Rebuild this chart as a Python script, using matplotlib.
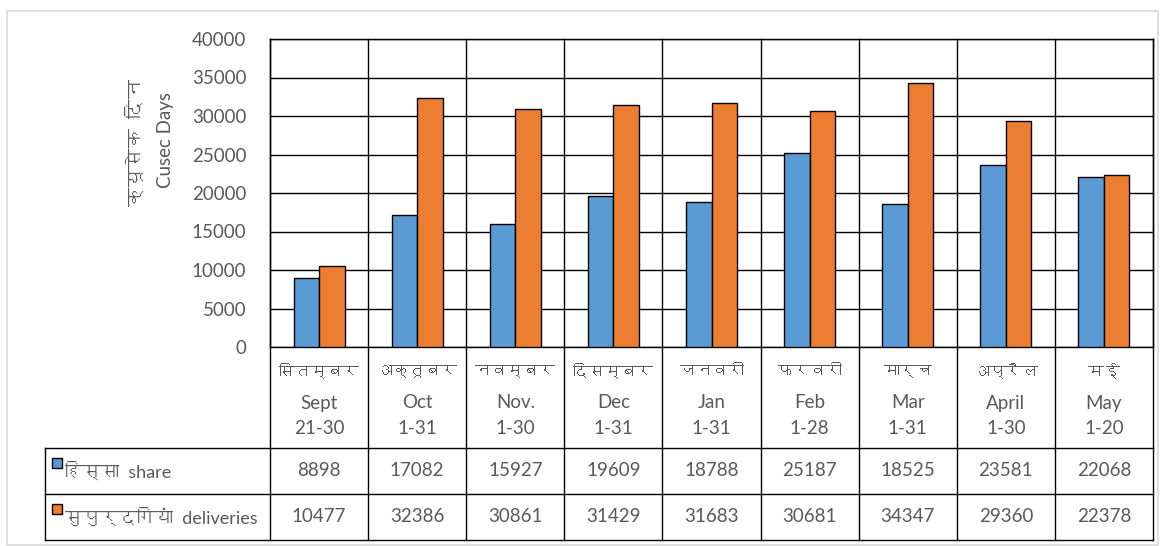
import matplotlib
matplotlib.use('Agg')
import matplotlib.pyplot as plt
import matplotlib.transforms as mtransforms
from matplotlib import font_manager
from matplotlib.ft2font import FT2Font
from matplotlib.lines import Line2D
from matplotlib.patches import Rectangle

months_hi = ['सितम्बर', 'अक्तूबर', 'नवम्बर', 'दिसम्बर', 'जनवरी', 'फरवरी', 'मार्च', 'अप्रैल', 'मई']
months_en = ['Sept', 'Oct', 'Nov.', 'Dec', 'Jan', 'Feb', 'Mar', 'April', 'May']
day_ranges = ['21-30', '1-31', '1-30', '1-31', '1-31', '1-28', '1-31', '1-30', '1-20']
share = [8898, 17082, 15927, 19609, 18788, 25187, 18525, 23581, 22068]
deliveries = [10477, 32386, 30861, 31429, 31683, 30681, 34347, 29360, 22378]
series_names = ['हिस्सा  share', 'सुपुर्दगियां  deliveries']
y_title = ['क्यूसेक  दिन', 'Cusec Days']


# look for any installed font that has devanagari glyphs
deva = []
for f in font_manager.fontManager.ttflist:
    if f.name in deva:
        continue
    try:
        if 0x0915 in FT2Font(f.fname).get_charmap():
            deva.append(f.name)
    except Exception:
        pass

plt.rcParams['font.family'] = ['Lato'] + deva[:1] + ['DejaVu Sans']

W, H = 1165, 546
fig = plt.figure(figsize=(W / 100, H / 100), dpi=100)
grey = '#595959'
blue = '#5B9BD5'
orange = '#ED7D31'


def fx(px):
    return px / W


def fy(px):
    return 1 - px / H


# chart frame
fig.add_artist(Rectangle((fx(7), fy(545)), fx(1151), fy(11) - fy(545), transform=fig.transFigure,
                         fill=False, edgecolor='#D9D9D9', lw=1.2))

ax = fig.add_axes([fx(270), fy(347), fx(1153) - fx(270), fy(39) - fy(347)])
n = len(share)
xs = list(range(n))
w = 0.26
ax.bar([x - w / 2 for x in xs], share, w, color=blue, edgecolor='black', lw=1, zorder=3)
ax.bar([x + w / 2 for x in xs], deliveries, w, color=orange, edgecolor='black', lw=1, zorder=3)
ax.set_xlim(-0.5, n - 0.5)
ax.set_ylim(0, 40000)
ax.set_yticks(range(0, 40001, 5000))
ax.tick_params(axis='y', length=0, pad=17, labelsize=13.5, labelcolor=grey)
ax.set_xticks([])
ax.yaxis.grid(True, color='black', lw=1)
ax.set_axisbelow(True)
for s in ax.spines.values():
    s.set_color('black')
    s.set_linewidth(1)

blend = mtransforms.blended_transform_factory(ax.transData, fig.transFigure)

# vertical category borders running through the table
for i in range(n + 1):
    fig.add_artist(Line2D([i - 0.5, i - 0.5], [fy(39), fy(540)], transform=blend, color='black', lw=1))
# horizontal table lines
for yy in [448, 494, 540]:
    fig.add_artist(Line2D([fx(45), fx(1153)], [fy(yy), fy(yy)], transform=fig.transFigure, color='black', lw=1))
fig.add_artist(Line2D([fx(45), fx(45)], [fy(448), fy(540)], transform=fig.transFigure, color='black', lw=1))

# category header text
for i in range(n):
    fig.text(i, fy(372), months_hi[i], transform=blend, ha='center', va='center', fontsize=11.5, color=grey)
    fig.text(i, fy(403), months_en[i], transform=blend, ha='center', va='center', fontsize=13.5, color=grey)
    fig.text(i, fy(428), day_ranges[i], transform=blend, ha='center', va='center', fontsize=13.5, color=grey)

# data rows
for row, (vals, col, name, yc) in enumerate([(share, blue, series_names[0], 471),
                                               (deliveries, orange, series_names[1], 517)]):
    fig.add_artist(Rectangle((fx(52), fy(yc - 3)), fx(10), fy(yc - 13) - fy(yc - 3), transform=fig.transFigure,
                             facecolor=col, edgecolor='black', lw=1))
    fig.text(fx(65), fy(yc), name, ha='left', va='center', fontsize=13, color=grey)
    for i in range(n):
        fig.text(i, fy(yc), str(vals[i]), transform=blend, ha='center', va='center', fontsize=13.5, color=grey)

# y axis title, two lines
fig.text(fx(135), fy(142), y_title[0], rotation=90, ha='center', va='center', fontsize=14, color=grey)
fig.text(fx(166), fy(140), y_title[1], rotation=90, ha='center', va='center', fontsize=13.5, color=grey)

fig.savefig('out.png', dpi=100)
